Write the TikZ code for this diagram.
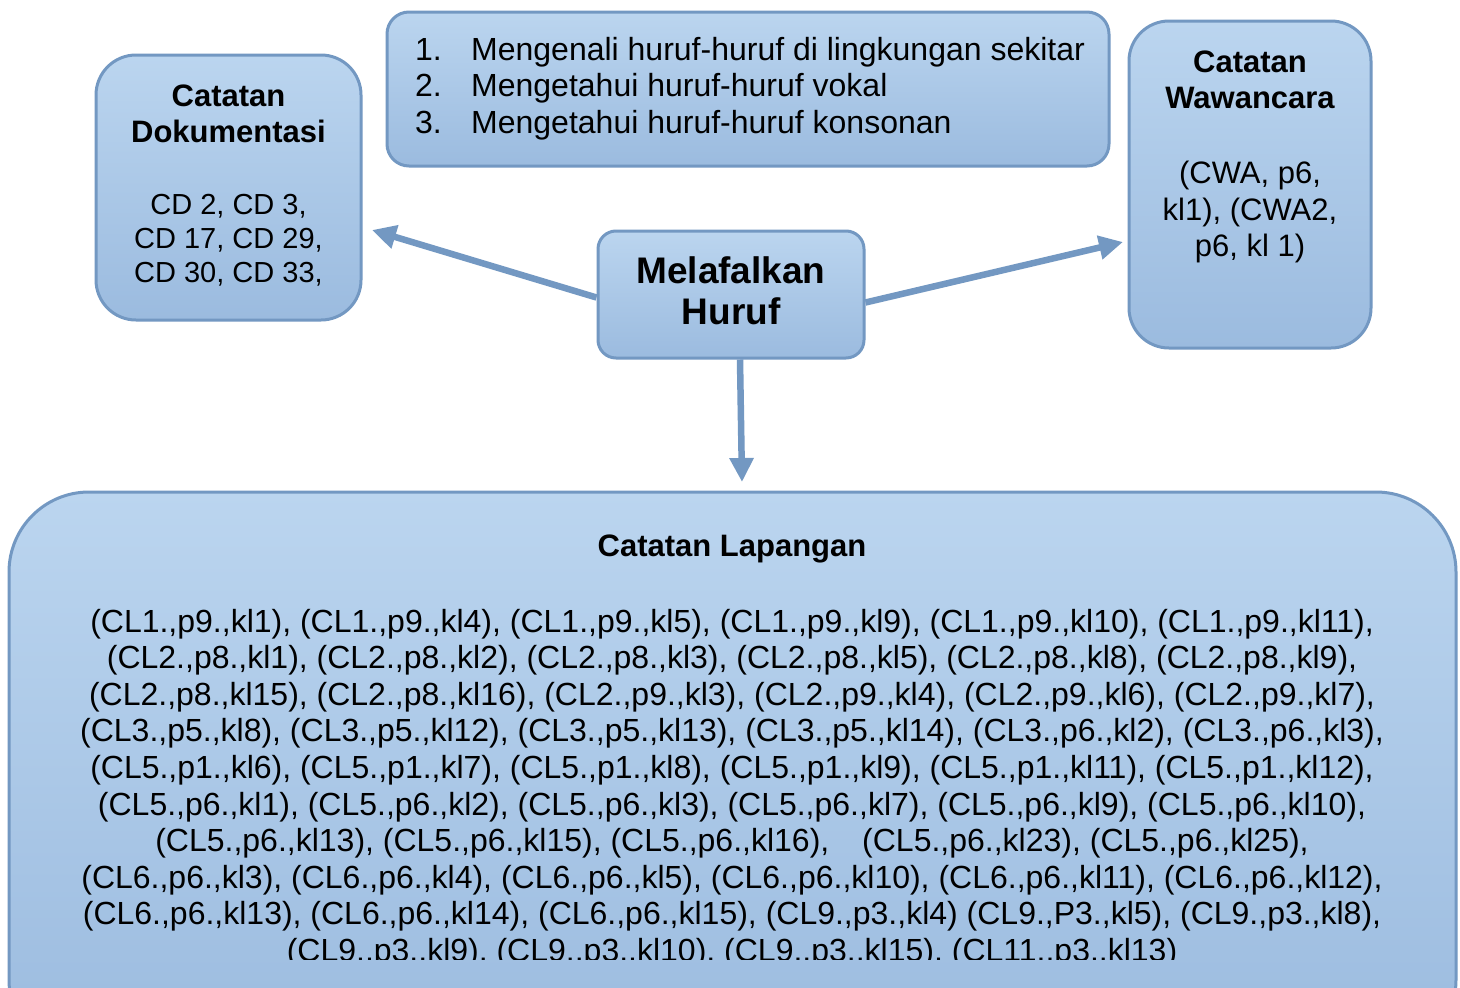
\documentclass[tikz,border=0pt]{standalone}
\usepackage{fontspec}
\setmainfont{Liberation Sans}
\usetikzlibrary{arrows.meta,calc}

\definecolor{cardtop}{HTML}{BBD5EF}
\definecolor{cardbottom}{HTML}{9BBBDF}
\definecolor{cardline}{HTML}{7398C2}

\tikzset{
  card/.style={draw=cardline, line width=3pt, top color=cardtop, bottom color=cardbottom, inner sep=0pt},
  head/.style={font=\fontsize{31}{36}\selectfont\bfseries, align=center, inner sep=0pt},
  body/.style={font=\fontsize{31}{36.5}\selectfont, align=center, inner sep=0pt},
  link/.style={draw=cardline, line width=6.5pt, -{Triangle[length=24pt,width=23pt]}},
}

\begin{document}
\begin{tikzpicture}[x=1pt, y=-1pt]
\useasboundingbox (0,0) rectangle (1460,988);
\clip (0,0) rectangle (1460,988);
\fill[white] (0,0) rectangle (1460,988);

\node (dok) [card, minimum width=265pt, minimum height=265pt, rounded corners=40pt] at (228.5,187.5) {};
\node (dokHead) [head] at (228.5,114) {Catatan\\Dokumentasi};
\node (dokBody) [body, font=\fontsize{29}{34}\selectfont] at (228.5,240) {CD 2, CD 3,\\CD 17, CD 29,\\CD 30, CD 33,};

\node (goals) [card, minimum width=722pt, minimum height=154pt, rounded corners=22pt] at (748,89) {};
\node (goalList) [body, font=\fontsize{32}{36.5}\selectfont, align=left, anchor=west] at (415,88.5) {\makebox[56pt][l]{1.}Mengenali huruf-huruf di lingkungan sekitar\\
  \makebox[56pt][l]{2.}Mengetahui huruf-huruf vokal\\
  \makebox[56pt][l]{3.}Mengetahui huruf-huruf konsonan};

\node (waw) [card, minimum width=242pt, minimum height=327pt, rounded corners=40pt] at (1250,184.5) {};
\node (wawHead) [head] at (1250,80) {Catatan\\Wawancara};
\node (wawBody) [body] at (1250,212) {(CWA, p6,\\kl1), (CWA2,\\p6, kl 1)};

\node (hub) [card, minimum width=266pt, minimum height=127pt, rounded corners=18pt] at (731,294.5) {};
\node (hubLabel) [head, font=\fontsize{37}{41}\selectfont\bfseries] at (731,291) {Melafalkan\\Huruf};

\node (field) [card, minimum width=1447pt, minimum height=568pt, rounded corners=80pt] at (732.5,776) {};
\node (fieldHead) [head] at (732,549) {Catatan Lapangan};
\begin{scope}
  \clip (0,0) rectangle (1460,959);
  \node (fieldBody) [body, font=\fontsize{32}{36.6}\selectfont] at (732,788.5) {%
    (CL1.,p9.,kl1), (CL1.,p9.,kl4), (CL1.,p9.,kl5), (CL1.,p9.,kl9), (CL1.,p9.,kl10), (CL1.,p9.,kl11),\\
    (CL2.,p8.,kl1), (CL2.,p8.,kl2), (CL2.,p8.,kl3), (CL2.,p8.,kl5), (CL2.,p8.,kl8), (CL2.,p8.,kl9),\\
    (CL2.,p8.,kl15), (CL2.,p8.,kl16), (CL2.,p9.,kl3), (CL2.,p9.,kl4), (CL2.,p9.,kl6), (CL2.,p9.,kl7),\\
    (CL3.,p5.,kl8), (CL3.,p5.,kl12), (CL3.,p5.,kl13), (CL3.,p5.,kl14), (CL3.,p6.,kl2), (CL3.,p6.,kl3),\\
    (CL5.,p1.,kl6), (CL5.,p1.,kl7), (CL5.,p1.,kl8), (CL5.,p1.,kl9), (CL5.,p1.,kl11), (CL5.,p1.,kl12),\\
    (CL5.,p6.,kl1), (CL5.,p6.,kl2), (CL5.,p6.,kl3), (CL5.,p6.,kl7), (CL5.,p6.,kl9), (CL5.,p6.,kl10),\\
    (CL5.,p6.,kl13), (CL5.,p6.,kl15), (CL5.,p6.,kl16),\hspace{24pt} (CL5.,p6.,kl23), (CL5.,p6.,kl25),\\
    (CL6.,p6.,kl3), (CL6.,p6.,kl4), (CL6.,p6.,kl5), (CL6.,p6.,kl10), (CL6.,p6.,kl11), (CL6.,p6.,kl12),\\
    (CL6.,p6.,kl13), (CL6.,p6.,kl14), (CL6.,p6.,kl15), (CL9.,p3.,kl4) (CL9.,P3.,kl5), (CL9.,p3.,kl8),\\
    (CL9.,p3.,kl9), (CL9.,p3.,kl10), (CL9.,p3.,kl15), (CL11.,p3.,kl13)};
\end{scope}

\coordinate (dokIn) at (372,230);
\coordinate (wawIn) at (1123,242);
\coordinate (fieldIn) at (742,482);
\draw[link] ($(hub.west)+(0,3)$) -- (dokIn);
\draw[link] ($(hub.east)+(0,8)$) -- (wawIn);
\draw[link] ($(hub.south)+(9,0)$) -- (fieldIn);
\end{tikzpicture}
\end{document}
